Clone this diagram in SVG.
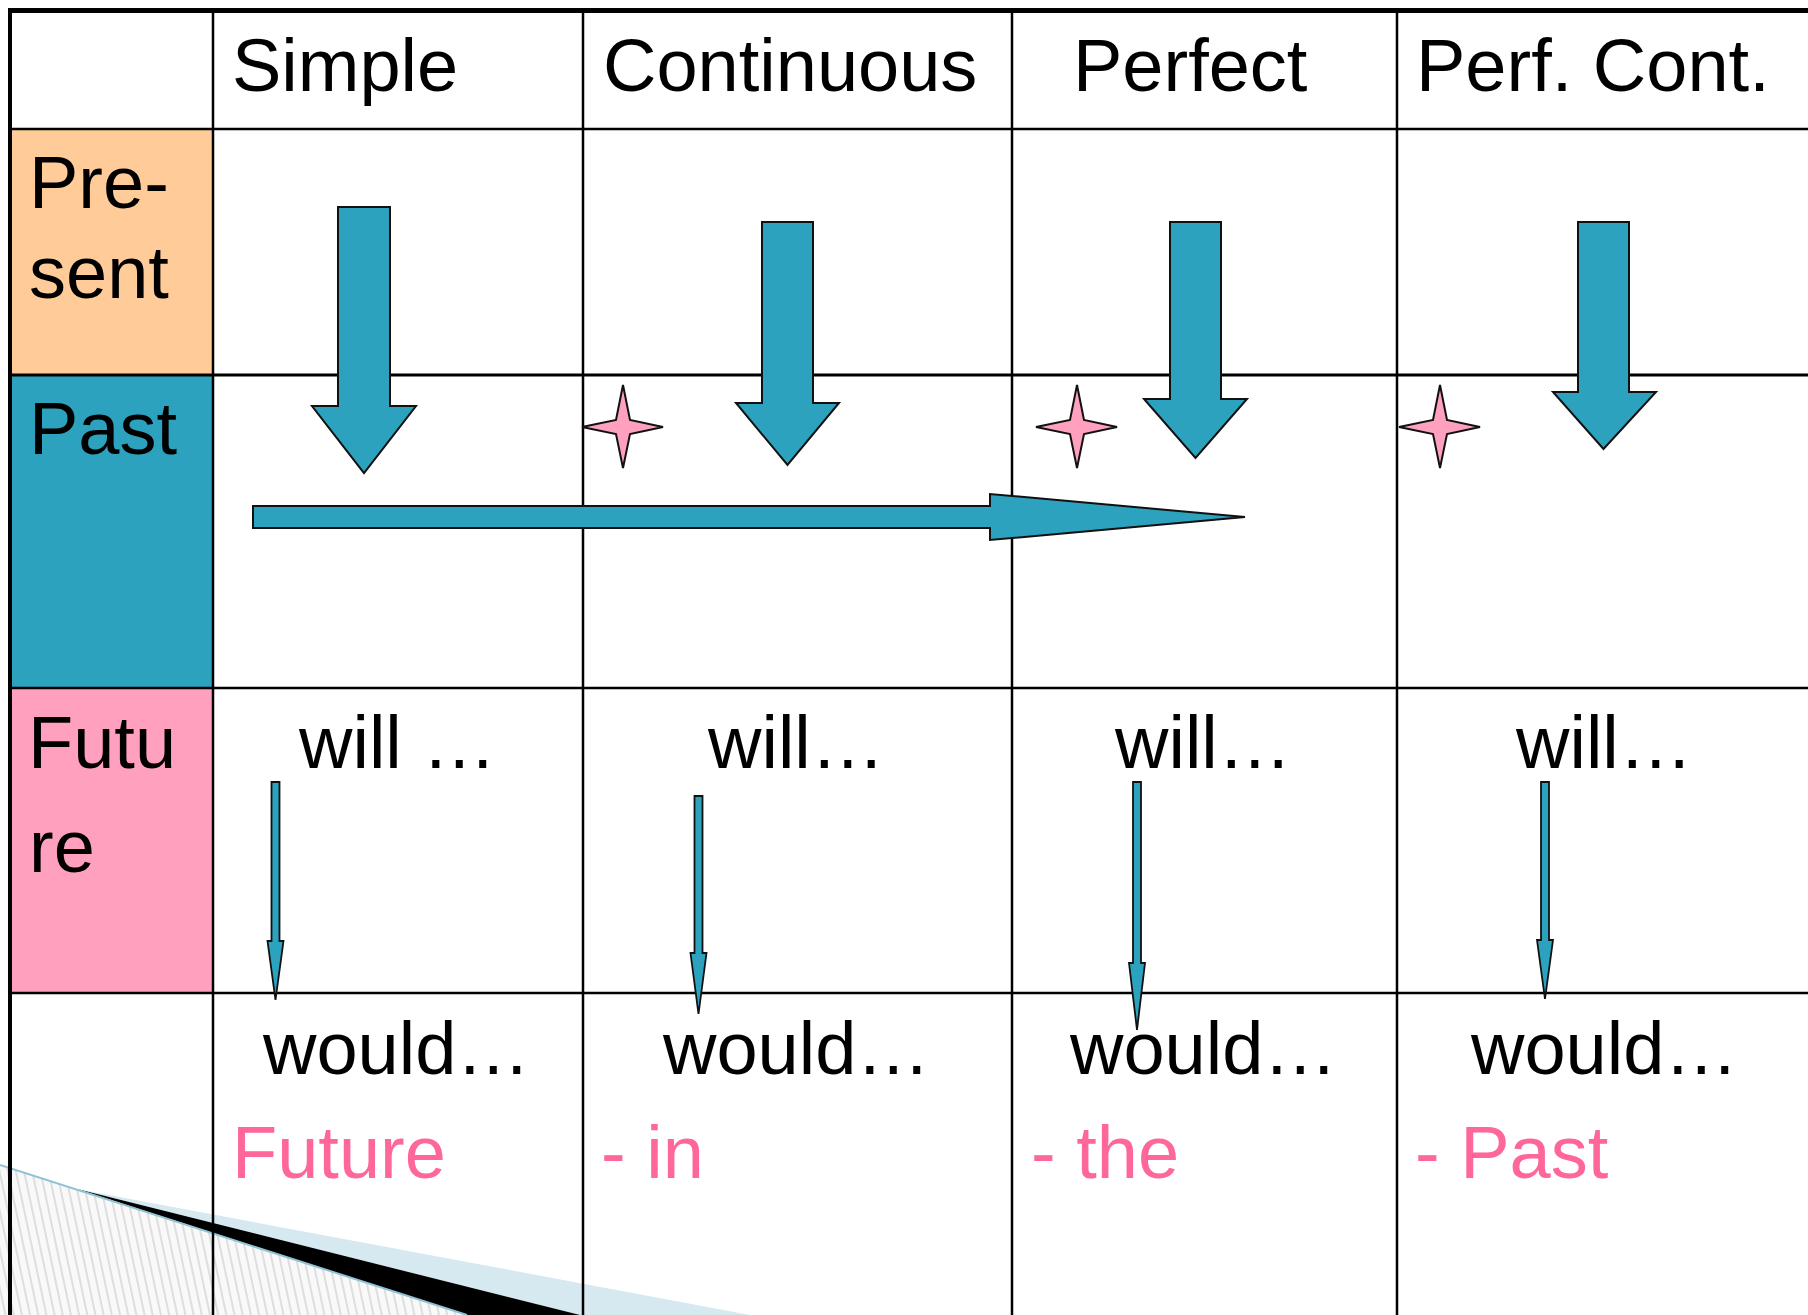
<svg xmlns="http://www.w3.org/2000/svg" width="1808" height="1315" viewBox="0 0 1808 1315">
<style>
text{font-family:"Liberation Sans",Arial,sans-serif;font-size:74px;fill:#000}
.pink{fill:#FF6699}
.grid{stroke:#000;stroke-width:2.5;fill:none}
.arrow{fill:#2CA2BF;stroke:#111;stroke-width:2;stroke-linejoin:miter}
.thin{fill:#2CA2BF;stroke:#111;stroke-width:1.8}
.star{fill:#FFA0BE;stroke:#111;stroke-width:2}
</style>
<defs>
<pattern id="hatch" patternUnits="userSpaceOnUse" width="8" height="8" patternTransform="rotate(-12)">
<rect width="8" height="8" fill="#f9f9f9"/>
<line x1="4" y1="0" x2="4" y2="8" stroke="#c4c4c4" stroke-width="1"/>
</pattern>
</defs>
<rect width="1808" height="1315" fill="#fff"/>

<g id="corner-curl">
<polygon points="0,1165 467,1315 0,1315" fill="url(#hatch)"/>
<polygon points="77,1189 750,1315 467,1315" fill="#D6E9F1"/>
<polygon points="77,1189 580,1315 467,1315" fill="#000"/>
<line x1="0" y1="1165" x2="467" y2="1315" stroke="#8FC3D4" stroke-width="2"/>
</g>

<g id="row-headers">
<g id="cell-present"><rect x="11" y="130" width="202" height="245" fill="#FFCC99"/><text x="29" y="208">Pre-</text><text x="29" y="298">sent</text></g>
<g id="cell-past"><rect x="11" y="375" width="202" height="313" fill="#2CA2BF"/><text x="29" y="454">Past</text></g>
<g id="cell-future"><rect x="11" y="688" width="202" height="305" fill="#FFA0BE"/><text x="28" y="768">Futu</text><text x="29" y="872">re</text></g>
</g>

<g id="grid">
<line class="grid" x1="213" y1="10" x2="213" y2="1315"/>
<line class="grid" x1="583" y1="10" x2="583" y2="1315"/>
<line class="grid" x1="1012" y1="10" x2="1012" y2="1315"/>
<line class="grid" x1="1397" y1="10" x2="1397" y2="1315"/>
<line class="grid" x1="10" y1="129" x2="1808" y2="129"/>
<line class="grid" x1="10" y1="375" x2="1808" y2="375" style="stroke-width:3"/>
<line class="grid" x1="10" y1="688" x2="1808" y2="688"/>
<line class="grid" x1="10" y1="993" x2="1808" y2="993"/>
<line x1="8" y1="10.5" x2="1808" y2="10.5" stroke="#000" stroke-width="5"/>
<line x1="10" y1="8" x2="10" y2="1315" stroke="#000" stroke-width="4"/>
</g>

<g id="col-headers">
<g id="h-simple"><text x="232" y="91">Simple</text></g>
<g id="h-continuous"><text x="603" y="91">Continuous</text></g>
<g id="h-perfect"><text x="1073" y="91">Perfect</text></g>
<g id="h-perfcont"><text x="1416" y="91">Perf. Cont.</text></g>
</g>

<g id="future-cells">
<g id="will-1"><text x="299" y="768">will …</text></g>
<g id="will-2"><text x="708" y="768">will…</text></g>
<g id="will-3"><text x="1115" y="768">will…</text></g>
<g id="will-4"><text x="1516" y="768">will…</text></g>
</g>

<g id="bottom-cells">
<g id="would-1"><text x="263" y="1074">would…</text><text class="pink" x="232" y="1178">Future</text></g>
<g id="would-2"><text x="663" y="1074">would…</text><text class="pink" x="601" y="1178">- in</text></g>
<g id="would-3"><text x="1070" y="1074">would…</text><text class="pink" x="1031" y="1178">- the</text></g>
<g id="would-4"><text x="1471" y="1074">would…</text><text class="pink" x="1415" y="1178">- Past</text></g>
</g>

<g id="stars">
<path id="star-1" class="star" d="M623,385 L630,420 L663,427 L630,434 L623,468 L616,434 L582,427 L616,420 Z"/>
<path id="star-2" class="star" d="M1077,385 L1084,420 L1117,427 L1084,434 L1077,468 L1070,434 L1036,427 L1070,420 Z"/>
<path id="star-3" class="star" d="M1440,385 L1447,420 L1480,427 L1447,434 L1440,468 L1433,434 L1399,427 L1433,420 Z"/>
</g>

<g id="connectors">
<polygon class="arrow" points="338,207 390,207 390,406 416,406 364,473 312,406 338,406"/>
<polygon class="arrow" points="762,222 813,222 813,403 839,403 787.5,465 736,403 762,403"/>
<polygon class="arrow" points="1170,222 1221,222 1221,399 1247,399 1195.5,458 1144,399 1170,399"/>
<polygon class="arrow" points="1578,222 1629,222 1629,392 1656,392 1603.5,449 1553,392 1578,392"/>
<polygon class="arrow" points="253,506 990,506 990,494 1245,517 990,540 990,528 253,528"/>
<polygon class="thin" points="271.5,782 279.5,782 279.5,941 283.5,941 275.5,1000 267.5,941 271.5,941"/>
<polygon class="thin" points="694.5,796 702.5,796 702.5,953 706.5,953 698.5,1014 690.5,953 694.5,953"/>
<polygon class="thin" points="1133,782 1141,782 1141,963 1145,963 1137,1030 1129,963 1133,963"/>
<polygon class="thin" points="1541,782 1549,782 1549,940 1553,940 1545,999 1537,940 1541,940"/>
</g>
</svg>
